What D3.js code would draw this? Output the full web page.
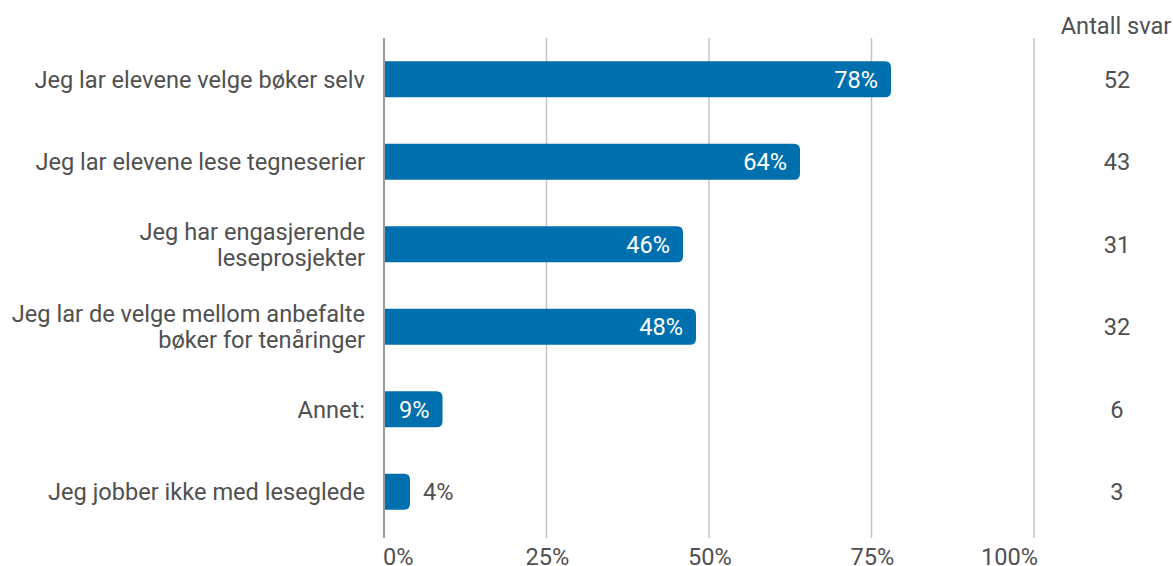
<!DOCTYPE html>
<html>
<head>
<meta charset="utf-8">
<script src="https://cdn.jsdelivr.net/npm/d3@7"></script>
<style>
  html, body { margin: 0; padding: 0; background: #fff; }
  svg { display: block; font-family: Roboto, "Noto Sans", sans-serif; }
</style>
</head>
<body>
<svg id="chart" width="1173" height="566"></svg>
<script>
// Answer categories (line breaks marked with \n)
const categories = [
  "Jeg lar elevene velge bøker selv",
  "Jeg lar elevene lese tegneserier",
  "Jeg har engasjerende\nleseprosjekter",
  "Jeg lar de velge mellom anbefalte\nbøker for tenåringer",
  "Annet:",
  "Jeg jobber ikke med leseglede"
];
// Share of respondents (%)
const percents = [78, 64, 46, 48, 9, 4];
// Number of answers
const counts = [52, 43, 31, 32, 6, 3];
// X axis ticks
const tickValues = [0, 25, 50, 75, 100];
const countHeader = "Antall svar";

const svg = d3.select("#chart");
const textColor = "#505050";
const barColor = "#006fad";
const fontSize = 23.6;

const x = d3.scaleLinear().domain([0, 100]).range([384, 1034]);
const y = d3.scaleBand()
  .domain(d3.range(categories.length))
  .range([38, 533])
  .paddingInner(0.564)
  .paddingOuter(0.282);

// Vertical gridlines
svg.append("g")
  .selectAll("line")
  .data(tickValues.slice(1))
  .join("line")
  .attr("x1", d => x(d)).attr("x2", d => x(d))
  .attr("y1", 38).attr("y2", 538)
  .attr("stroke", "#c4c4c4")
  .attr("stroke-width", 1.5);

// Bars with rounded right end
const r = 6;
function barPath(x0, x1, y0, h) {
  const rr = Math.min(r, (x1 - x0), h / 2);
  return `M${x0},${y0}H${x1 - rr}Q${x1},${y0} ${x1},${y0 + rr}V${y0 + h - rr}Q${x1},${y0 + h} ${x1 - rr},${y0 + h}H${x0}Z`;
}
svg.append("g")
  .selectAll("path")
  .data(percents)
  .join("path")
  .attr("d", (d, i) => barPath(x(0), x(d), y(i), y.bandwidth()))
  .attr("fill", barColor);

// Baseline axis
svg.append("line")
  .attr("x1", x(0)).attr("x2", x(0))
  .attr("y1", 38).attr("y2", 538)
  .attr("stroke", "#9a9a9a")
  .attr("stroke-width", 2);

// Value labels
svg.append("g")
  .selectAll("text")
  .data(percents)
  .join("text")
  .attr("x", d => d >= 8 ? x(d) - 13 : x(d) + 13)
  .attr("y", (d, i) => y(i) + y.bandwidth() / 2)
  .attr("dy", "0.35em")
  .attr("text-anchor", d => d >= 8 ? "end" : "start")
  .attr("fill", d => d >= 8 ? "#ffffff" : textColor)
  .attr("font-size", fontSize)
  .text(d => d + "%");

// Category labels
const lineH = 26;
svg.append("g")
  .selectAll("text")
  .data(categories)
  .join("text")
  .attr("text-anchor", "end")
  .attr("fill", textColor)
  .attr("font-size", fontSize)
  .each(function (d, i) {
    const lines = d.split("\n");
    const cy = y(i) + y.bandwidth() / 2;
    const top = cy - (lines.length - 1) * lineH / 2;
    d3.select(this).selectAll("tspan")
      .data(lines)
      .join("tspan")
      .attr("x", 365)
      .attr("y", (l, k) => top + k * lineH)
      .attr("dy", "0.35em")
      .text(l => l);
  });

// X tick labels
svg.append("g")
  .selectAll("text")
  .data(tickValues)
  .join("text")
  .attr("x", (d, i) => i === 0 ? x(d) - 1 : i === tickValues.length - 1 ? x(d) + 4 : x(d) + 1)
  .attr("y", 557)
  .attr("dy", "0.35em")
  .attr("text-anchor", (d, i) => i === 0 ? "start" : i === tickValues.length - 1 ? "end" : "middle")
  .attr("fill", textColor)
  .attr("font-size", fontSize)
  .text(d => d + "%");

// Count column
svg.append("text")
  .attr("x", 1116).attr("y", 26).attr("dy", "0.35em")
  .attr("text-anchor", "middle")
  .attr("fill", textColor)
  .attr("font-size", fontSize)
  .text(countHeader);

svg.append("g")
  .selectAll("text")
  .data(counts)
  .join("text")
  .attr("x", 1117)
  .attr("y", (d, i) => y(i) + y.bandwidth() / 2)
  .attr("dy", "0.35em")
  .attr("text-anchor", "middle")
  .attr("fill", textColor)
  .attr("font-size", fontSize)
  .text(d => d);
</script>
</body>
</html>
